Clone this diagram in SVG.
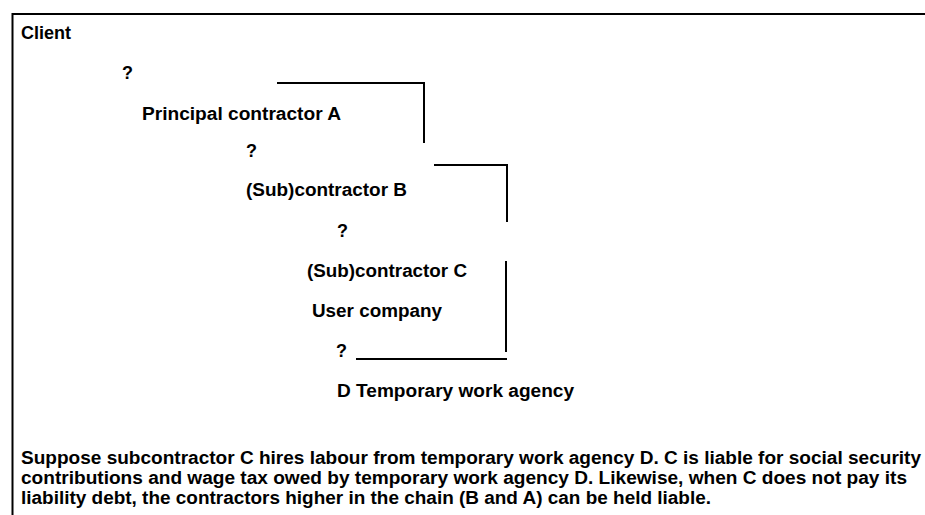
<svg xmlns="http://www.w3.org/2000/svg" width="925" height="515" viewBox="0 0 925 515">
<style>
text{font-family:"Liberation Sans",Arial,sans-serif;font-weight:bold;font-size:18px;fill:#000}
.ln{stroke:#000;stroke-width:2;fill:none}
</style>
<rect width="925" height="515" fill="#fff"/>
<g id="frame"><path d="M12.5,515 V14 H925" stroke="#000" stroke-width="2" fill="none"/></g>
<g id="client"><text x="21" y="39">Client</text></g>
<g id="q1"><text x="122" y="79">?</text></g>
<g id="contractorA"><text x="142" y="120" textLength="199" lengthAdjust="spacingAndGlyphs">Principal contractor A</text></g>
<g id="q2"><text x="246" y="157">?</text></g>
<g id="contractorB"><text x="246" y="196" textLength="161" lengthAdjust="spacingAndGlyphs">(Sub)contractor B</text></g>
<g id="q3"><text x="337" y="237">?</text></g>
<g id="contractorC"><text x="307" y="277" textLength="160" lengthAdjust="spacingAndGlyphs">(Sub)contractor C</text></g>
<g id="userCompany"><text x="312" y="317" textLength="130" lengthAdjust="spacingAndGlyphs">User company</text></g>
<g id="q4"><text x="336" y="357">?</text></g>
<g id="agencyD"><text x="337" y="397" textLength="237" lengthAdjust="spacingAndGlyphs">D Temporary work agency</text></g>
<g id="connectors">
<path class="ln" d="M277,83 H424 V143"/>
<path class="ln" d="M434,165 H507 V222"/>
<path class="ln" d="M506,261 V352"/>
<path class="ln" d="M356,359 H507"/>
</g>
<g id="note">
<text x="21" y="464" textLength="900" lengthAdjust="spacingAndGlyphs">Suppose subcontractor C hires labour from temporary work agency D. C is liable for social security</text>
<text x="21" y="484" textLength="886" lengthAdjust="spacingAndGlyphs">contributions and wage tax owed by temporary work agency D. Likewise, when C does not pay its</text>
<text x="21" y="504" textLength="690" lengthAdjust="spacingAndGlyphs">liability debt, the contractors higher in the chain (B and A) can be held liable.</text>
</g>
</svg>
